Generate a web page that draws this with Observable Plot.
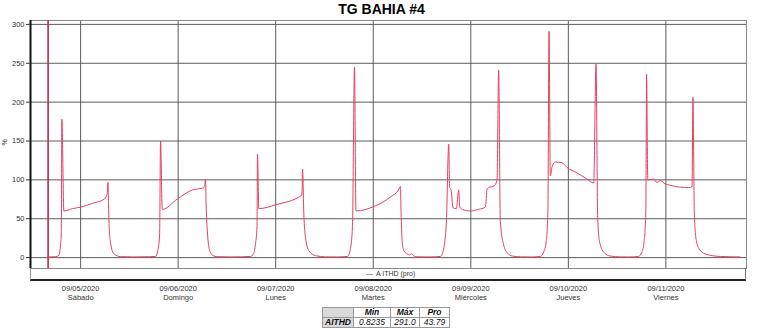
<!DOCTYPE html>
<html><head><meta charset="utf-8">
<script src="https://cdn.jsdelivr.net/npm/d3@7"></script>
<script src="https://cdn.jsdelivr.net/npm/@observablehq/plot@0.6"></script>
<style>
body{margin:0;background:#fff;font-family:"Liberation Sans",Arial,sans-serif;}
#wrap{position:relative;width:763px;height:329px;overflow:hidden;background:#fff;}
#title{position:absolute;left:0;top:1px;width:763px;text-align:center;font-weight:bold;font-size:14px;line-height:16px;color:#000;}
#chart{position:absolute;left:0;top:0;}
#ylab{position:absolute;left:1px;top:139px;font-size:7px;color:#333;transform:rotate(-90deg);}
#legend{position:absolute;left:30px;top:268px;width:716px;height:13px;box-sizing:border-box;border-left:1px solid #999;border-right:1px solid #777;border-bottom:2px solid #222;}
#legtxt{position:absolute;left:335px;top:1px;font-size:7px;color:#333;line-height:9px;white-space:nowrap;}
#legtxt span{display:inline-block;width:7px;height:0;border-top:1px solid #999;vertical-align:middle;margin-right:3px;}
table{position:absolute;left:322px;top:307px;border-collapse:collapse;font-size:8.5px;font-style:italic;color:#111;}
td{border:1px solid #999;padding:0 2px;height:9px;line-height:9px;text-align:center;}
td.g{background:#d9d9d9;}
td.b{font-weight:bold;}
</style></head>
<body><div id="wrap">
<div id="title">TG BAHIA #4</div>
<div id="chart"></div>
<div id="ylab">%</div>
<div id="legend"><div id="legtxt"><span></span>A ITHD (pro)</div></div>
<table id="stats"></table>
</div>
<script>
// Series: A ITHD (pro), %
const times = [
"09-04 16:00","09-04 17:00","09-04 17:50","09-04 18:40","09-04 19:05","09-04 19:15","09-04 19:23","09-04 19:53","09-04 22:00",
"09-05 00:00","09-05 03:00","09-05 05:44","09-05 06:24","09-05 06:35","09-05 06:43","09-05 06:55","09-05 07:20","09-05 08:10","09-05 09:50","09-05 13:00","09-05 17:00","09-05 18:26","09-05 19:00","09-05 19:26","09-05 19:40","09-05 20:05","09-05 23:51",
"09-06 03:32","09-06 05:00","09-06 06:15","09-06 06:30","09-06 06:44","09-06 06:52","09-06 07:10","09-06 07:45","09-06 08:25","09-06 09:30","09-06 13:00","09-06 17:48","09-06 18:32","09-06 19:02","09-06 19:24","09-06 19:31","09-06 19:51",
"09-07 00:00","09-07 06:20","09-07 06:30","09-07 06:36","09-07 06:55","09-07 07:20","09-07 08:08","09-07 09:47","09-07 12:15","09-07 15:00","09-07 17:39","09-07 18:24","09-07 18:53","09-07 19:23","09-07 19:45",
"09-08 00:07","09-08 04:14","09-08 06:12","09-08 06:41","09-08 06:51","09-08 07:06","09-08 07:30","09-08 08:20","09-08 08:54","09-08 09:23","09-08 09:53","09-08 10:48","09-08 14:00","09-08 16:31","09-08 17:00","09-08 17:30","09-08 18:00","09-08 18:34","09-08 18:48","09-08 19:06","09-08 19:38","09-08 20:27","09-08 21:01","09-08 21:18","09-08 21:55","09-08 23:54",
"09-09 01:52","09-09 03:36","09-09 04:00","09-09 04:20","09-09 05:38","09-09 06:27","09-09 06:51","09-09 07:16","09-09 08:00","09-09 09:00","09-09 10:13","09-09 12:12","09-09 15:00","09-09 17:07","09-09 17:55","09-09 18:35","09-09 18:58","09-09 19:15","09-09 19:34","09-09 20:00","09-09 20:48","09-09 22:27","09-09 23:40",
"09-10 02:08","09-10 04:35","09-10 06:14","09-10 06:49","09-10 07:13","09-10 07:38","09-10 08:42","09-10 10:20","09-10 12:47","09-10 15:00","09-10 17:13","09-10 18:06","09-10 18:40","09-10 19:04","09-10 19:15","09-10 19:33","09-10 21:00","09-10 21:48","09-10 22:36","09-10 23:48",
"09-11 01:06","09-11 03:33","09-11 05:36","09-11 06:26","09-11 06:40","09-11 07:00","09-11 07:29","09-11 08:28","09-11 10:07","09-11 13:23","09-11 18:15"
];
const values = [
0.9,1.0,1.2,3,18,32,178,60,63,
65,70,75,80,84,97,55,20,5,1.3,0.9,1.2,1.5,9,30,150,62,75.6,
87,88.5,89.8,92,101,70,35,9,3,1.2,0.9,1.5,5,18,40,133,63,
68,80,86,114,56,26,9,2.5,1,0.9,1.5,12,40,245,60,
65.7,78,87,91.5,57,22,9,5,3.5,5,2.5,1,0.9,1.5,5,17,47,146,90,88,64,63,87,65,62,60,
62,65,88,90,92,99,241,47,18,6,2,1,0.85,1.5,7,22,60,291,105,117,123,122,116,
109,101,96,249,52,22,7,2,1,0.85,1.5,7,22,60,236,100,101,96.6,99,95,
93,90.6,90,91.5,206,56,22,9,4,1.5,0.9
];
const xRange = ["09-04 11:40", "09-11 19:50"];
const dayTicks = ["09-05 00:00","09-06 00:00","09-07 00:00","09-08 00:00","09-09 00:00","09-10 00:00","09-11 00:00"];
const dayNames = ["Sábado","Domingo","Lunes","Martes","Miércoles","Jueves","Viernes"];
const yTicks = [0, 50, 100, 150, 200, 250, 300];
const yRange = [-14, 305];
const markerTimes = ["09-04 16:00"];
const statHeaders = ["Min", "Máx", "Pro"];
const statRow = ["AITHD", "0.8235", "291.0", "43.79"];

const parse = s => new Date("2020-" + s.slice(0,5) + "T" + s.slice(6) + ":00Z");
const data = times.map((t, i) => ({t: parse(t), v: values[i]}));
const xDom = xRange.map(parse);
const ticks = dayTicks.map(parse);
const markers = markerTimes.map(parse);
const fmtDate = d3.utcFormat("%m/%d/%Y");
const dayName = d => dayNames[Math.round((d - ticks[0]) / 864e5)];

const chart = Plot.plot({
  width: 763, height: 305,
  marginTop: 20, marginLeft: 30, marginRight: 17, marginBottom: 37,
  style: {fontFamily: "Liberation Sans, Arial, sans-serif", fontSize: "7.5px", color: "#333", background: "transparent", overflow: "visible"},
  x: {type: "utc", domain: xDom},
  y: {domain: yRange},
  marks: [
    Plot.ruleY(yTicks, {stroke: "#5c5c5c", strokeWidth: 1}),
    Plot.ruleX(ticks, {stroke: "#5c5c5c", strokeWidth: 1}),
    Plot.frame({stroke: "#888"}),
    Plot.ruleX([xDom[0]], {stroke: "#111", strokeWidth: 2}),
    Plot.ruleX(markers, {stroke: "#b42a4a", strokeWidth: 1.6}),
    Plot.line(data, {x: "t", y: "v", stroke: "#e6405f", strokeWidth: 1, curve: "monotone-x"}),
    Plot.axisY(yTicks, {tickSize: 4, tickPadding: 2, label: null}),
    Plot.axisX(ticks, {tickSize: 0, tickPadding: 17, tickFormat: fmtDate, label: null}),
    Plot.axisX(ticks, {tickSize: 0, tickPadding: 26, tickFormat: dayName, label: null})
  ]
});
document.getElementById("chart").appendChild(chart);

const tbl = document.getElementById("stats");
const colW = [21, 32, 24, 25];
let h = "<tr><td class='g' style='width:" + colW[0] + "px'></td>";
statHeaders.forEach((s, i) => h += "<td class='b' style='width:" + colW[i+1] + "px'>" + s + "</td>");
h += "</tr><tr>";
statRow.forEach((s, i) => h += "<td" + (i === 0 ? " class='g b'" : "") + ">" + s + "</td>");
h += "</tr>";
tbl.innerHTML = h;
</script>
</body></html>
